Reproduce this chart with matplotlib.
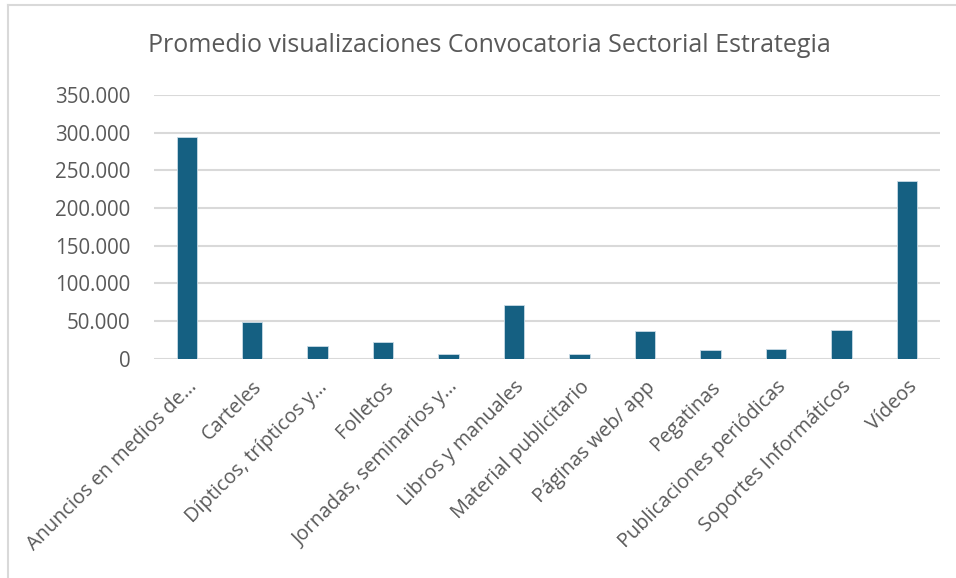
import matplotlib.pyplot as plt
from matplotlib.lines import Line2D
from matplotlib.ticker import FuncFormatter
import numpy as np

# datos
categorias = [
    'Anuncios en medios de…',
    'Carteles',
    'Dípticos, trípticos y…',
    'Folletos',
    'Jornadas, seminarios y…',
    'Libros y manuales',
    'Material publicitario',
    'Páginas web/ app',
    'Pegatinas',
    'Publicaciones periódicas',
    'Soportes Informáticos',
    'Vídeos',
]
promedios = [294000, 48700, 17800, 22000, 6000, 72000, 6000, 36700, 11500, 13300, 38900, 236000]
ticks_y = [0, 50000, 100000, 150000, 200000, 250000, 300000, 350000]

plt.rcParams['font.family'] = ['Open Sans', 'DejaVu Sans']
gris = '#595959'

fig = plt.figure(figsize=(9.56, 5.78), dpi=100)
ax = fig.add_axes([0.161, 0.379, 0.822, 0.457])

x = np.arange(len(categorias))
ax.bar(x, promedios, width=0.31, color='#156082', edgecolor='#c9dbe6', linewidth=0.6, zorder=3)

ax.set_xlim(-0.5, len(categorias) - 0.5)
ax.set_ylim(0, 350000)
ax.set_yticks(ticks_y)
ax.yaxis.set_major_formatter(FuncFormatter(lambda v, p: f'{int(v):,}'.replace(',', '.')))
ax.grid(axis='y', color='#d9d9d9', linewidth=1.5, zorder=0)
ax.set_xticks(x)
ax.set_xticklabels(categorias, rotation=45, ha='right', rotation_mode='anchor')
ax.tick_params(axis='both', length=0, colors=gris)
ax.tick_params(axis='y', pad=17, labelsize=14.8)
ax.tick_params(axis='x', pad=13, labelsize=14.3)
for s in ax.spines.values():
    s.set_visible(False)

fig.text(0.512, 0.921, 'Promedio visualizaciones Convocatoria Sectorial Estrategia',
         ha='center', va='center', fontsize=18, color=gris)

# marco del area del grafico
fig.add_artist(Line2D([8 / 956, 8 / 956], [0, 1 - 5 / 578], transform=fig.transFigure,
                      color='#d9d9d9', linewidth=1.5))
fig.add_artist(Line2D([8 / 956, 1], [1 - 5 / 578, 1 - 5 / 578], transform=fig.transFigure,
                      color='#d9d9d9', linewidth=1.5))

fig.savefig('out.png', dpi=100)
